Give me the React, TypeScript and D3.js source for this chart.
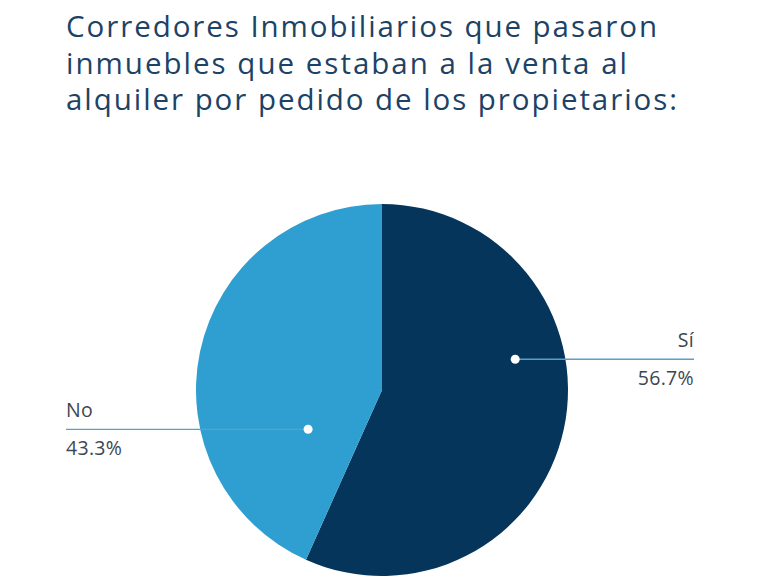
import React from 'react';
import * as d3 from 'd3';

const titleLines = [
  'Corredores Inmobiliarios que pasaron',
  'inmuebles que estaban a la venta al',
  'alquiler por pedido de los propietarios:',
];
const titleWidths = [591, 561, 611];
const categories = ['Sí', 'No'];
const values = [56.7, 43.3];
const colors = ['#05355a', '#2f9fd1'];

const W = 767;
const H = 580;
const cx = 382;
const cy = 390;
const R = 186;

// where each label's leader dot sits (angle from top, fraction of radius)
const dotAngle = [77, 242];
const dotFrac = [0.735, 0.45];

const App: React.FC = () => {
  const data = categories.map((c, i) => ({ label: c, value: values[i] }));
  const pie = d3.pie<{ label: string; value: number }>().value(d => d.value).sort(null);
  const arcs = pie(data);
  const arc = d3.arc<d3.PieArcDatum<{ label: string; value: number }>>().innerRadius(0).outerRadius(R);

  const dots = arcs.map((a, i) => {
    const t = (dotAngle[i] * Math.PI) / 180;
    return { x: cx + R * dotFrac[i] * Math.sin(t), y: cy - R * dotFrac[i] * Math.cos(t) };
  });

  return (
    <svg width={W} height={H} style={{ position: 'absolute', left: 0, top: 0, background: '#fff' }}>
      <g fontFamily="'Open Sans', sans-serif" fill="#1c4366" fontSize={29.5}>
        {titleLines.map((t, i) => (
          <text key={i} x={66} y={37 + i * 36.5} textLength={titleWidths[i]} lengthAdjust="spacing">{t}</text>
        ))}
      </g>
      <g transform={`translate(${cx},${cy})`}>
        {arcs.map((a, i) => (
          <path key={i} d={arc(a) || ''} fill={colors[i]} />
        ))}
      </g>
      {/* Sí label, right side */}
      <line x1={dots[0].x} y1={dots[0].y} x2={694} y2={dots[0].y} stroke="#5a9fc8" strokeWidth={1.3} />
      <circle cx={dots[0].x} cy={dots[0].y} r={4.5} fill="#fff" />
      <g fontFamily="'Open Sans', sans-serif" fontSize={19.5} fill="#3c4752" textAnchor="end" letterSpacing={0.3}>
        <text x={694} y={dots[0].y - 12}>{arcs[0].data.label}</text>
        <text x={694} y={dots[0].y + 26}>{arcs[0].data.value.toFixed(1)}%</text>
      </g>
      {/* No label, left side */}
      <line x1={66} y1={dots[1].y} x2={dots[1].x} y2={dots[1].y} stroke="#5a9fc8" strokeWidth={1.3} />
      <circle cx={dots[1].x} cy={dots[1].y} r={4.5} fill="#fff" />
      <g fontFamily="'Open Sans', sans-serif" fontSize={19.5} fill="#3c4752" letterSpacing={0.3}>
        <text x={66} y={dots[1].y - 12}>{arcs[1].data.label}</text>
        <text x={66} y={dots[1].y + 26}>{arcs[1].data.value.toFixed(1)}%</text>
      </g>
    </svg>
  );
};

export default App;
